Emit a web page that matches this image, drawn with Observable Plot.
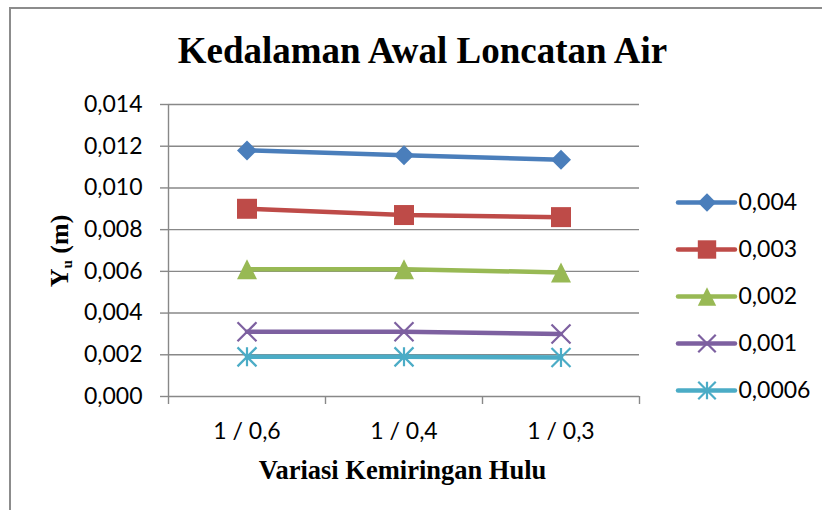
<!DOCTYPE html>
<html><head><meta charset="utf-8">
<script src="https://cdn.jsdelivr.net/npm/d3@7"></script>
<script src="https://cdn.jsdelivr.net/npm/@observablehq/plot@0.6"></script>
<style>
html,body{margin:0;padding:0;background:#fff;overflow:hidden;width:822px;height:510px}
#wrap{position:relative;width:822px;height:510px;overflow:hidden;background:#fff}
#frame{position:absolute;left:9px;top:7px;width:813px;height:503px;border-top:2px solid #8c8c8c;border-left:2px solid #8c8c8c;box-sizing:border-box}
#chart,#legend,#labels{position:absolute}
#chart{left:0;top:0}
#legend{left:672px;top:178px}
#labels{left:0;top:0;pointer-events:none}
</style></head><body>
<div id="wrap">
  <div id="frame"></div>
  <div id="chart"></div>
  <div id="legend"></div>
  <svg id="labels" width="822" height="510">
    <text x="422.5" y="63" text-anchor="middle" font-family="Liberation Serif" font-weight="bold" font-size="37" fill="#000">Kedalaman Awal Loncatan Air</text>
    <text x="402.5" y="479" text-anchor="middle" font-family="Liberation Serif" font-weight="bold" font-size="26.5" fill="#000">Variasi Kemiringan Hulu</text>
    <text transform="translate(68,251) rotate(-90)" text-anchor="middle" font-family="Liberation Serif" font-weight="bold" font-size="26" fill="#000">Y<tspan font-size="15" dy="4">u</tspan><tspan dy="-4"> (m)</tspan></text>
  </svg>
</div>
<script>
// ---- data ----
const categories = ["1 / 0,6", "1 / 0,4", "1 / 0,3"];
const seriesNames = ["0,004", "0,003", "0,002", "0,001", "0,0006"];
const values0004 = [0.0118, 0.01157, 0.01135];
const values0003 = [0.0090, 0.0087, 0.0086];
const values0002 = [0.0061, 0.0061, 0.00595];
const values0001 = [0.0031, 0.0031, 0.0030];
const values00006 = [0.0019, 0.0019, 0.00187];
const yTicks = [0, 0.002, 0.004, 0.006, 0.008, 0.010, 0.012, 0.014];
const colors = ["#4A7EBB", "#BE4B48", "#98B954", "#7D60A0", "#4BACC6"];

const seriesValues = [values0004, values0003, values0002, values0001, values00006];

// ---- marker symbols (Excel style) ----
const L = s => Math.sqrt(s / Math.PI);
const symDiamond = {draw(c, s){const r=L(s); c.moveTo(0,-r); c.lineTo(r,0); c.lineTo(0,r); c.lineTo(-r,0); c.closePath();}};
const symSquare = {draw(c, s){const r=L(s); c.rect(-r,-r,2*r,2*r);}};
const symTriangle = {draw(c, s){const r=L(s); c.moveTo(0,-r); c.lineTo(r,r); c.lineTo(-r,r); c.closePath();}};
const symTimes = {draw(c, s){const r=L(s); c.moveTo(-r,-r); c.lineTo(r,r); c.moveTo(-r,r); c.lineTo(r,-r);}};
const symStar = {draw(c, s){const r=L(s); c.moveTo(-r,-r); c.lineTo(r,r); c.moveTo(-r,r); c.lineTo(r,-r); c.moveTo(0,-r); c.lineTo(0,r);}};
const symbols = [symDiamond, symSquare, symTriangle, symTimes, symStar];
const filled = [true, true, true, false, false];
const markR = [10, 10, 10, 9.5, 9.5];

const rows = [];
seriesNames.forEach((s, si) => {
  seriesValues[si].forEach((v, ci) => rows.push({series: s, si, cat: categories[ci], xi: ci + 0.5, value: v}));
});

const fmt = d => d3.format(".3f")(d).replace(".", ",");
const gridColor = "#888888";

const marks = [
  Plot.gridY(yTicks, {stroke: gridColor, strokeOpacity: 1, strokeWidth: 1.4}),
  Plot.ruleX([0], {stroke: gridColor, strokeWidth: 1.4}),
  Plot.axisY(yTicks, {tickSize: 8, tickPadding: 18, tickFormat: fmt, stroke: gridColor, strokeWidth: 1.4, fill: "#000", label: null}),
  Plot.axisX([0, 1, 2, 3], {tickSize: 8, tickFormat: () => "", stroke: gridColor, strokeWidth: 1.4, label: null}),
  Plot.axisX([0.5, 1.5, 2.5], {tickSize: 0, tickPadding: 26, tickFormat: d => categories[Math.floor(d)], fill: "#000", label: null})
];
seriesNames.forEach((s, si) => {
  const data = rows.filter(r => r.series === s);
  marks.push(Plot.line(data, {x: "xi", y: "value", stroke: colors[si], strokeWidth: 4.5, strokeLinecap: "round", strokeLinejoin: "round"}));
  marks.push(Plot.dot(data, {x: "xi", y: "value", symbol: symbols[si], r: markR[si],
    fill: filled[si] ? colors[si] : "none", stroke: colors[si], strokeWidth: filled[si] ? 0 : 2.2}));
});

const chart = Plot.plot({
  width: 822, height: 510,
  marginLeft: 168, marginRight: 183, marginTop: 104, marginBottom: 114,
  style: {fontFamily: "Lato", fontSize: "23px", color: "#000", background: "transparent"},
  x: {domain: [0, 3]},
  y: {domain: [0, 0.014]},
  marks
});
document.getElementById("chart").append(chart);

// ---- legend ----
const legendMarks = [];
seriesNames.forEach((s, si) => {
  legendMarks.push(Plot.ruleY([s], {x1: 0, x2: 1, stroke: colors[si], strokeWidth: 4.5, strokeLinecap: "round"}));
  legendMarks.push(Plot.dot([s], {x: 0.5, y: d => d, symbol: symbols[si], r: markR[si] * 0.92,
    fill: filled[si] ? colors[si] : "none", stroke: colors[si], strokeWidth: filled[si] ? 0 : 2.2}));
  legendMarks.push(Plot.text([s], {x: 1, y: d => d, text: d => d, dx: 3, textAnchor: "start", fill: "#000"}));
});
const legend = Plot.plot({
  width: 150, height: 240,
  marginLeft: 6, marginRight: 87, marginTop: 23, marginBottom: 27,
  style: {fontFamily: "Lato", fontSize: "23px", color: "#000", background: "transparent", overflow: "visible"},
  x: {domain: [0, 1], axis: null},
  y: {type: "point", domain: seriesNames, padding: 0, axis: null},
  marks: legendMarks
});
document.getElementById("legend").append(legend);
</script>
</body></html>
